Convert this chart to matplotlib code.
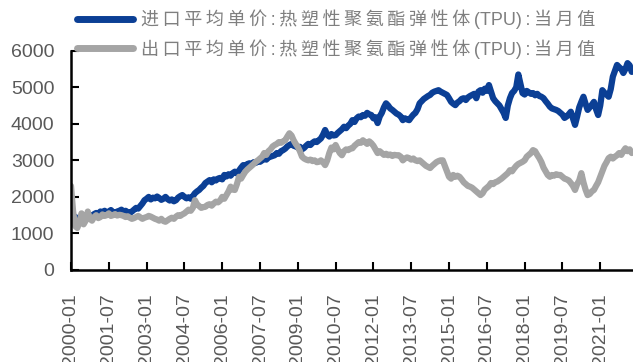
import matplotlib
matplotlib.use("Agg")
import matplotlib.pyplot as plt
import pandas as pd

# Monthly series, 2000-01 .. 2022-04 (unit price)
months = pd.date_range("2000-01", periods=268, freq="MS").strftime("%Y-%m").tolist()

import_price = [
    1550, 1480, 1450, 1420, 1400, 1460, 1430, 1480, 1520, 1500, 1470, 1530,  # 2000
    1560, 1540, 1600, 1580, 1620, 1570, 1600, 1640, 1580, 1560, 1600, 1620,  # 2001
    1650, 1600, 1620, 1580, 1560, 1600, 1650, 1700, 1680, 1750, 1820, 1910,  # 2002
    1950, 2000, 1930, 1980, 1960, 2010, 1970, 1920, 1950, 2000, 1940, 1900,  # 2003
    1930, 1880, 1910, 1980, 2020, 2050, 2000, 1960, 1990, 1950, 2020, 2100,  # 2004
    2150, 2190, 2250, 2300, 2380, 2420, 2460, 2400, 2480, 2450, 2500, 2520,  # 2005
    2480, 2600, 2560, 2620, 2580, 2650, 2690, 2640, 2720, 2800, 2870, 2820,  # 2006
    2900, 2920, 2880, 2950, 2930, 2980, 2960, 3000, 3050, 3020, 3080, 3100,  # 2007
    3120, 3140, 3200, 3180, 3250, 3280, 3320, 3380, 3420, 3450, 3400, 3380,  # 2008
    3350, 3370, 3300, 3340, 3400, 3450, 3420, 3480, 3520, 3500, 3550, 3600,  # 2009
    3700, 3830, 3700, 3650, 3720, 3680, 3690, 3750, 3800, 3850, 3920, 3880,  # 2010
    3950, 4000, 4100, 4050, 4150, 4200, 4180, 4240, 4220, 4300, 4260, 4240,  # 2011
    4150, 4180, 4020, 4200, 4300, 4450, 4560, 4500, 4420, 4380, 4330, 4280,  # 2012
    4250, 4200, 4100, 4150, 4120, 4100, 4180, 4250, 4300, 4400, 4560, 4620,  # 2013
    4680, 4720, 4760, 4790, 4850, 4880, 4900, 4920, 4880, 4850, 4820, 4790,  # 2014
    4700, 4600, 4550, 4510, 4580, 4620, 4680, 4700, 4650, 4720, 4760, 4790,  # 2015
    4820, 4700, 4880, 4920, 4850, 4960, 4900, 5060, 4880, 4700, 4620, 4560,  # 2016
    4500, 4400, 4300, 4160, 4500, 4700, 4840, 4900, 5000, 5350, 5100, 4840,  # 2017
    4800, 4900, 4860, 4820, 4840, 4780, 4820, 4760, 4740, 4700, 4620, 4550,  # 2018
    4470, 4420, 4400, 4380, 4350, 4300, 4250, 4160, 4200, 4260, 4330, 4150,  # 2019
    3970, 4200, 4450, 4600, 4740, 4550, 4380, 4450, 4520, 4600, 4400, 4240,  # 2020
    4500, 4920, 4850, 4800, 4740, 4950, 5290, 5450, 5610, 5550, 5500, 5390,  # 2021
    5500, 5660, 5600, 5420,                                                  # 2022
]

export_price = [
    2300, 1600, 1200, 1150, 1300, 1550, 1250, 1350, 1600, 1400, 1350, 1450,  # 2000
    1500, 1420, 1450, 1520, 1480, 1500, 1550, 1480, 1500, 1530, 1490, 1510,  # 2001
    1500, 1480, 1450, 1470, 1430, 1400, 1420, 1450, 1480, 1440, 1400, 1430,  # 2002
    1450, 1480, 1460, 1430, 1400, 1380, 1350, 1400, 1340, 1320, 1360, 1400,  # 2003
    1430, 1400, 1460, 1500, 1480, 1520, 1550, 1600, 1650, 1620, 1700, 1910,  # 2004
    1800, 1750, 1700, 1720, 1730, 1780, 1800, 1760, 1820, 1870, 1850, 1900,  # 2005
    2000, 1950, 2050, 2150, 2280, 2200, 2190, 2350, 2550, 2500, 2600, 2690,  # 2006
    2750, 2800, 2850, 2900, 2960, 3000, 3050, 3100, 3200, 3150, 3250, 3300,  # 2007
    3380, 3420, 3450, 3500, 3480, 3520, 3550, 3650, 3740, 3680, 3550, 3450,  # 2008
    3370, 3250, 3100, 3050, 3020, 3000, 3020, 2980, 3000, 2950, 2960, 3000,  # 2009
    2950, 2870, 3000, 3200, 3350, 3300, 3420, 3300, 3200, 3140, 3250, 3300,  # 2010
    3280, 3320, 3330, 3400, 3450, 3500, 3480, 3550, 3500, 3450, 3520, 3470,  # 2011
    3400, 3300, 3200, 3250, 3200, 3150, 3180, 3140, 3160, 3120, 3150, 3140,  # 2012
    3140, 3100, 3000, 3050, 3080, 3060, 3020, 3050, 3000, 2980, 3000, 2950,  # 2013
    2900, 2850, 2820, 2790, 2850, 2900, 2950, 2980, 3000, 3000, 2850, 2700,  # 2014
    2550, 2500, 2600, 2550, 2580, 2550, 2480, 2400, 2350, 2300, 2280, 2250,  # 2015
    2200, 2150, 2100, 2050, 2100, 2200, 2250, 2300, 2380, 2350, 2400, 2420,  # 2016
    2460, 2500, 2550, 2600, 2650, 2730, 2700, 2780, 2850, 2900, 2930, 2960,  # 2017
    3000, 3100, 3150, 3200, 3280, 3250, 3150, 3060, 2950, 2800, 2700, 2600,  # 2018
    2550, 2600, 2580, 2620, 2600, 2600, 2550, 2500, 2480, 2450, 2380, 2300,  # 2019
    2190, 2350, 2450, 2650, 2400, 2200, 2050, 2080, 2150, 2190, 2300, 2400,  # 2020
    2550, 2700, 2850, 2950, 3060, 3100, 3050, 3100, 3140, 3200, 3150, 3250,  # 2021
    3330, 3250, 3300, 3200,                                                  # 2022
]

series_names = [
    "进口平均单价:热塑性聚氨酯弹性体(TPU):当月值",
    "出口平均单价:热塑性聚氨酯弹性体(TPU):当月值",
]
series_colors = ["#0B3F95", "#A5A5A5"]
yticks = [0, 1000, 2000, 3000, 4000, 5000, 6000]
tick_step = 18

TEXT_FONTS = ["Liberation Sans", "Noto Sans CJK SC", "DejaVu Sans"]
plt.rcParams["font.family"] = TEXT_FONTS


def spaced(label):
    # open up the tracking of the legend text a little
    out = []
    i = 0
    while i < len(label):
        if label[i] == "(":
            j = label.index(")", i)
            out.append(label[i:j + 1])
            i = j + 1
        else:
            out.append(label[i])
            i += 1
    return "\u2009".join(out)


fig = plt.figure(figsize=(6.33, 3.62), dpi=100)
ax = fig.add_axes([71 / 633, 92 / 362, 562 / 633, 219.3 / 362])

x = list(range(len(months)))
for vals, name, col in zip([import_price, export_price], series_names, series_colors):
    ax.plot(x, vals, color=col, lw=4.5, solid_joinstyle="round",
            solid_capstyle="round", label=spaced(name))

ax.set_xlim(0, 267.6)
ax.set_ylim(0, 6000)
ax.set_yticks(yticks)
ax.set_xticks(x[::tick_step])
ax.set_xticklabels(months[::tick_step], rotation=90, va="top", ha="center")

for side in ("top", "right"):
    ax.spines[side].set_visible(False)
for side in ("left", "bottom"):
    ax.spines[side].set_linewidth(1.8)
    ax.spines[side].set_color("black")

ax.tick_params(axis="both", direction="in", length=6, width=1.5, color="black",
               labelsize=14, labelcolor="#595959")
ax.tick_params(axis="y", pad=12)
ax.tick_params(axis="x", pad=17)
for lab in ax.get_xticklabels() + ax.get_yticklabels():
    lab.set_family("Liberation Sans")

leg = ax.legend(loc="upper left", bbox_to_anchor=(72 / 633, 1.0 - 4 / 362),
                bbox_transform=fig.transFigure, frameon=False,
                fontsize=13, handlelength=3.1, handletextpad=0.4,
                borderpad=0.3, borderaxespad=0, labelspacing=0.56)
for t in leg.get_texts():
    t.set_color("#7F7F7F")
for h in leg.get_lines():
    h.set_linewidth(5)
    h.set_solid_capstyle("round")

fig.savefig("out.png", dpi=100)
